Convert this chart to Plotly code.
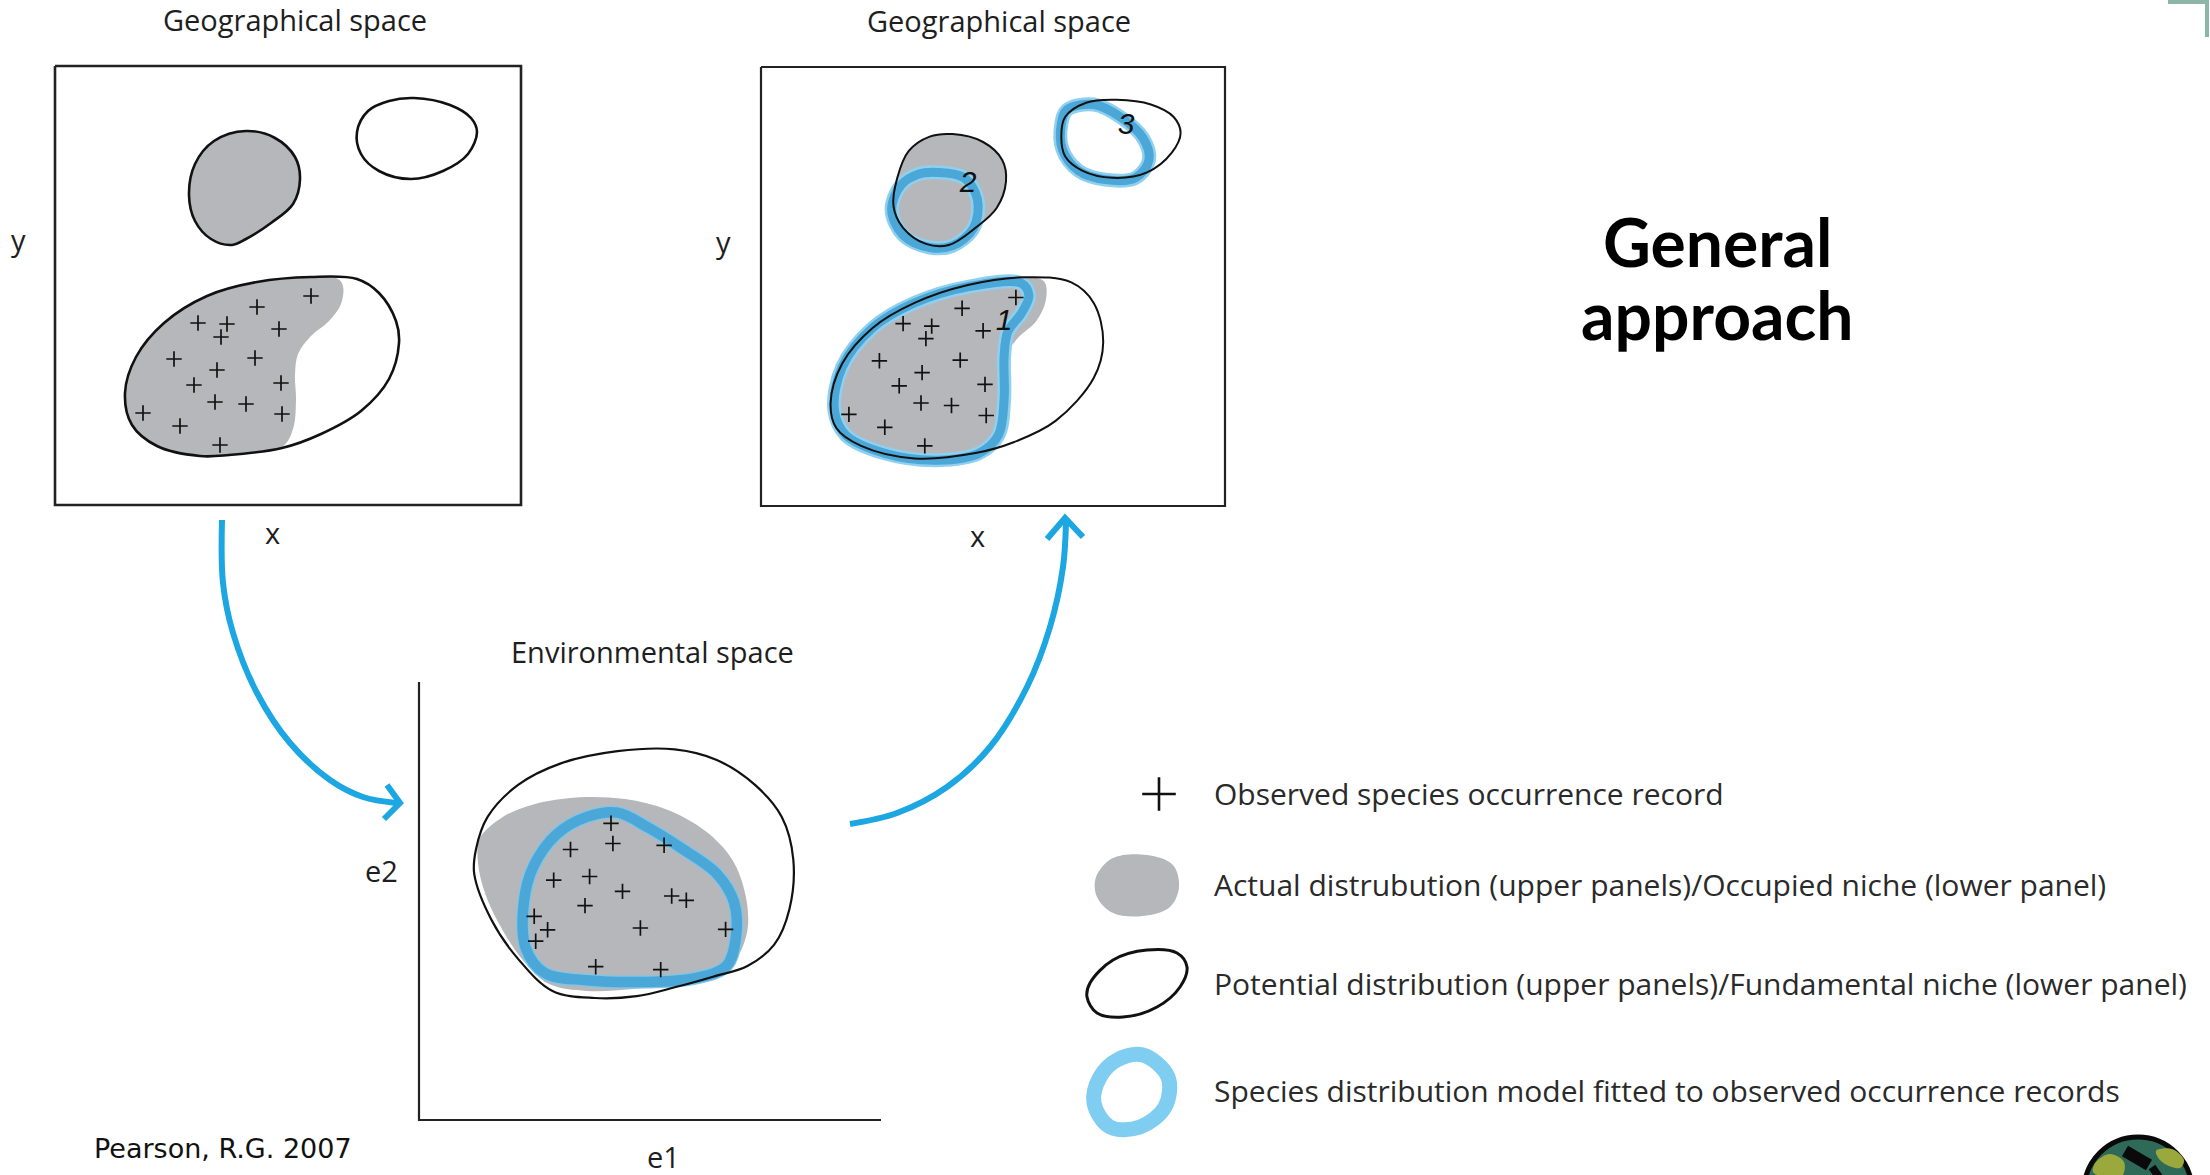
import plotly.graph_objects as go

W, H = 2210, 1175

# ---------------- data (diagram geometry, pixel units of the page) ----------------
# Panel 1 : Geographical space (left)
P1_FRAME = [55, 521, 66, 505]
P1_SMALL_X = [246, 275, 295, 300, 293, 271, 246, 232, 211, 195, 189, 195, 214]
P1_SMALL_Y = [131, 138, 157, 179, 204, 223, 239, 245, 239, 221, 195, 164, 141]
P1_OPEN_X = [414, 450, 471, 477, 468, 443, 411, 379, 361, 357, 368, 389]
P1_OPEN_Y = [98, 105, 118, 132, 154, 171, 179, 171, 154, 132, 111, 101]
P1_BIG_X = [125, 136, 164, 207, 257, 311, 357, 379, 396, 399, 389, 361, 321, 282, 229, 200, 157, 132]
P1_BIG_Y = [393, 357, 323, 296, 282, 277, 279, 293, 321, 343, 379, 411, 434, 448, 455, 456, 446, 425]
P1_ACT_X = [125, 136, 164, 207, 257, 311, 338, 343, 341, 329, 311, 298, 295, 296, 293, 282, 229, 200, 157, 132]
P1_ACT_Y = [393, 357, 323, 296, 282, 277, 279, 286, 304, 321, 336, 354, 375, 400, 429, 447, 455, 456, 446, 425]
P1_OCC_X = [311, 257, 198, 227, 221, 279, 174, 255, 217, 194, 281, 215, 246, 143, 282, 180, 220]
P1_OCC_Y = [296, 307, 323, 324, 337, 329, 359, 358, 370, 385, 383, 402, 404, 413, 414, 426, 445]

# Panel 2 : Geographical space (right, with model predictions)
P2_FRAME = [761, 1225, 67, 506]
P2_SMALL_X = [952.6, 983.1, 1002.2, 1006.0, 996.5, 975.5, 948.8, 925.9, 903.1, 893.5, 897.3, 908.8, 929.7]
P2_SMALL_Y = [134.1, 142.0, 159.9, 181.3, 208.2, 227.8, 245.0, 243.9, 227.8, 206.4, 177.8, 150.9, 136.6]
P2_RING2_X = [937.4, 964.1, 977.4, 973.6, 952.6, 929.7, 903.1, 891.6, 901.2, 918.3]
P2_RING2_Y = [172.4, 177.8, 199.2, 227.8, 245.7, 247.5, 235.0, 209.9, 184.9, 174.2]
P2_OPEN_X = [1065.1, 1086.1, 1116.6, 1150.9, 1173.7, 1180.6, 1171.8, 1147.1, 1112.7, 1082.2, 1065.1, 1061.3]
P2_OPEN_Y = [117.0, 102.7, 99.8, 104.5, 117.0, 133.1, 152.7, 172.4, 177.8, 170.6, 156.3, 136.6]
P2_RING3_X = [1067.0, 1093.7, 1120.4, 1143.2, 1149.0, 1135.6, 1105.1, 1078.4, 1062.4, 1061.3]
P2_RING3_Y = [109.8, 104.5, 117.0, 138.4, 159.9, 177.8, 179.6, 170.6, 149.2, 124.1]
P2_BIG_X = [830.6, 842.1, 872.6, 914.5, 967.9, 1025.1, 1070.8, 1093.7, 1103.2, 1093.7, 1055.6, 1013.6, 975.5, 914.5, 861.1, 836.3]
P2_BIG_Y = [403.0, 363.7, 327.9, 302.9, 285.0, 277.2, 282.2, 302.9, 342.2, 378.0, 420.9, 442.3, 453.1, 458.4, 445.9, 428.0]
P2_ACT_X = [830.6, 842.1, 872.6, 914.5, 967.9, 1025.1, 1044.1, 1046.0, 1036.5, 1017.4, 1006.0, 1004.1, 998.4, 979.3, 914.5, 861.1, 836.3]
P2_ACT_Y = [403.0, 363.7, 327.9, 302.9, 285.0, 277.2, 281.4, 299.3, 320.8, 338.6, 356.5, 392.3, 428.0, 451.3, 458.4, 445.9, 428.0]
P2_RING1_X = [834.4, 842.1, 872.6, 914.5, 967.9, 1021.2, 1028.9, 1021.2, 1007.9, 1004.1, 1004.1, 998.4, 979.3, 937.4, 884.0, 845.9]
P2_RING1_Y = [410.2, 367.3, 327.9, 302.9, 286.8, 283.2, 295.7, 313.6, 331.5, 356.5, 399.4, 435.2, 453.1, 460.2, 453.1, 435.2]
P2_OCC_X = [1015.9, 962.1, 903.1, 931.7, 925.9, 983.1, 879.4, 960.2, 922.1, 899.2, 985.0, 921.0, 951.5, 848.9, 986.2, 884.8, 924.8]
P2_OCC_Y = [297.5, 308.3, 323.6, 326.1, 338.6, 330.8, 360.8, 360.1, 372.6, 385.8, 384.4, 403.0, 405.5, 414.4, 415.5, 427.3, 445.9]
P2_NUM_TEXT = ["1", "2", "3"]
P2_NUM_X = [1004, 968, 1126]
P2_NUM_Y = [322, 184, 126]

# Panel 3 : Environmental space
P3_AXIS_X = [419, 419, 881]
P3_AXIS_Y = [682, 1120, 1120]
P3_FUND_X = [476.1, 487.6, 518.1, 560.2, 617.5, 674.8, 716.8, 755.0, 781.8, 793.3, 789.4, 774.2, 747.4, 713.0, 674.8, 636.6, 594.6, 552.5, 518.1, 491.4, 474.2]
P3_FUND_Y = [848.8, 816.9, 784.9, 763.6, 751.2, 749.4, 760.0, 784.9, 816.9, 859.5, 909.2, 944.7, 966.0, 976.7, 987.3, 996.2, 998.0, 990.9, 958.9, 919.8, 873.7]
P3_OCCN_X = [479.9, 502.8, 533.4, 579.3, 625.1, 667.2, 705.4, 732.1, 745.5, 747.4, 735.9, 716.8, 678.6, 632.8, 586.9, 548.7, 522.0, 502.8, 485.7, 478.0]
P3_OCCN_Y = [838.2, 816.9, 804.4, 797.3, 799.1, 809.8, 831.1, 859.5, 895.0, 930.5, 958.9, 973.1, 983.8, 989.1, 990.9, 983.8, 958.9, 930.5, 895.0, 863.0]
P3_RING_X = [523.9, 533.4, 556.3, 586.9, 617.5, 648.1, 682.4, 716.8, 734.0, 735.9, 726.4, 693.9, 640.4, 586.9, 544.9, 525.8]
P3_RING_Y = [902.1, 866.6, 834.6, 816.9, 812.6, 827.5, 848.8, 873.7, 902.1, 937.6, 966.0, 978.4, 982.0, 980.2, 973.1, 948.2]
P3_OCC_X = [611.0, 612.9, 570.5, 664.1, 553.7, 589.6, 622.5, 671.7, 686.3, 585.0, 534.2, 547.6, 535.7, 640.4, 725.6, 595.7, 660.7]
P3_OCC_Y = [823.3, 843.5, 849.5, 845.3, 880.1, 876.5, 891.4, 896.0, 900.3, 905.6, 916.3, 929.8, 941.2, 928.0, 929.4, 966.7, 969.6]

# Arrows
ARROW_DOWN_X = [222, 223, 233, 257, 290, 330, 363, 396]
ARROW_DOWN_Y = [520, 583, 633, 693, 743, 780, 797, 803]
HEAD_DOWN_X = [387, 400, 384]
HEAD_DOWN_Y = [785, 803, 819]
ARROW_UP_X = [850, 897, 947, 990, 1027, 1050, 1063, 1066]
ARROW_UP_Y = [824, 813, 787, 747, 687, 627, 567, 522]
HEAD_UP_X = [1047, 1065, 1083]
HEAD_UP_Y = [539, 518, 537]

# Legend
LEG_PLUS_X = [1159]
LEG_PLUS_Y = [794]
LEG_GRAY_X = [1113, 1147, 1173, 1179, 1170, 1143, 1113, 1097, 1096]
LEG_GRAY_Y = [858, 855, 865, 887, 907, 916, 913, 897, 877]
LEG_ELL_X = [1090, 1113, 1147, 1177, 1187, 1180, 1157, 1123, 1097, 1087]
LEG_ELL_Y = [983, 960, 950, 953, 967, 987, 1007, 1017, 1013, 997]
LEG_RING_X = [1143, 1168, 1165, 1140, 1110, 1094, 1100, 1117]
LEG_RING_Y = [1055, 1077, 1107, 1127, 1127, 1103, 1077, 1060]
LEG_TEXT = [
    "Observed species occurrence record",
    "Actual distrubution (upper panels)/Occupied niche (lower panel)",
    "Potential distribution (upper panels)/Fundamental niche (lower panel)",
    "Species distribution model fitted to observed occurrence records",
]
LEG_TEXT_X = [1212, 1212, 1212, 1212]
LEG_TEXT_Y = [793, 884, 983, 1090]

# Panel labels
LABEL_TEXT = ["Geographical space", "Geographical space", "Environmental space",
              "y", "x", "y", "x", "e2", "e1"]
LABEL_X = [295, 999, 652, 18, 272, 723, 977, 381, 663]
LABEL_Y = [19, 20, 651, 239, 532, 241, 535, 870, 1156]

HEADING_TEXT = ["General", "approach"]
HEADING_X = [1717, 1717]
HEADING_Y = [241, 314]
CITATION = "Pearson, R.G. 2007"
CITATION_XY = [92, 1148]

# Decorations (corner mark & logo)
CORNER_X = [2168, 2207, 2207]
CORNER_Y = [2, 2, 37]
LOGO_BOX = [2084, 2192, 1137, 1245]
LOGO_PATCH1_X = [2096, 2110, 2124, 2122, 2106, 2093]
LOGO_PATCH1_Y = [1162, 1154, 1162, 1176, 1177, 1172]
LOGO_PATCH2_X = [2156, 2172, 2184, 2180, 2162]
LOGO_PATCH2_Y = [1151, 1149, 1160, 1168, 1162]
LOGO_SAT_X = [2125, 2149]
LOGO_SAT_Y = [1151, 1165]
LOGO_SAT2_X = [2152, 2159]
LOGO_SAT2_Y = [1167, 1177]

# ---------------- styles ----------------
GRAY = "#b6b7bb"
BLUE_CORE = "#4aa7d8"
BLUE_HALO = "#8fd0ef"
LEG_BLUE = "#7fcdf1"
ARROW_BLUE = "#1ca6e2"
INK = "#111111"
TEXT_COL = "#1e1e1e"
FONT = "Open Sans"

fig = go.Figure()


def closed(xs, ys):
    return list(xs) + [xs[0]], list(ys) + [ys[0]]


def fill_shape(xs, ys, color):
    cx, cy = closed(xs, ys)
    fig.add_trace(go.Scatter(x=cx, y=cy, mode="lines", fill="toself", fillcolor=color,
                             line=dict(width=0, color=color, shape="spline", smoothing=1.0),
                             hoverinfo="skip", showlegend=False))


def outline(xs, ys, color, width, close=True, shape="spline"):
    if close:
        xs, ys = closed(xs, ys)
    fig.add_trace(go.Scatter(x=xs, y=ys, mode="lines",
                             line=dict(width=width, color=color, shape=shape, smoothing=1.0),
                             hoverinfo="skip", showlegend=False))


def pluses(xs, ys, size=11, width=1.7):
    fig.add_trace(go.Scatter(x=xs, y=ys, mode="markers",
                             marker=dict(symbol="cross-thin", size=size, color=INK,
                                         line=dict(width=width, color=INK)),
                             hoverinfo="skip", showlegend=False))


def frame(box, width):
    x0, x1, y0, y1 = box
    outline([x0, x1, x1, x0], [y0, y0, y1, y1], "#222222", width, close=True, shape="linear")


# ---- Panel 1 ----
frame(P1_FRAME, 2.6)
fill_shape(P1_SMALL_X, P1_SMALL_Y, GRAY)
fill_shape(P1_ACT_X, P1_ACT_Y, GRAY)
outline(P1_SMALL_X, P1_SMALL_Y, INK, 2.6)
outline(P1_OPEN_X, P1_OPEN_Y, INK, 2.6)
outline(P1_BIG_X, P1_BIG_Y, INK, 2.6)
pluses(P1_OCC_X, P1_OCC_Y)

# ---- Panel 2 ----
frame(P2_FRAME, 2.2)
fill_shape(P2_SMALL_X, P2_SMALL_Y, GRAY)
fill_shape(P2_ACT_X, P2_ACT_Y, GRAY)
rings2 = [(P2_RING2_X, P2_RING2_Y), (P2_RING3_X, P2_RING3_Y), (P2_RING1_X, P2_RING1_Y)]
for rx, ry in rings2:
    outline(rx, ry, BLUE_HALO, 14)
for rx, ry in rings2:
    outline(rx, ry, BLUE_CORE, 9)
outline(P2_SMALL_X, P2_SMALL_Y, INK, 2)
outline(P2_OPEN_X, P2_OPEN_Y, INK, 2)
outline(P2_BIG_X, P2_BIG_Y, INK, 2)
pluses(P2_OCC_X, P2_OCC_Y)
fig.add_trace(go.Scatter(x=P2_NUM_X, y=P2_NUM_Y, mode="text", text=P2_NUM_TEXT,
                         textfont=dict(family="Liberation Sans", size=30, color="#111111", style="italic"),
                         hoverinfo="skip", showlegend=False))

# ---- Panel 3 ----
outline(P3_AXIS_X, P3_AXIS_Y, "#222222", 2.2, close=False, shape="linear")
fill_shape(P3_OCCN_X, P3_OCCN_Y, GRAY)
outline(P3_RING_X, P3_RING_Y, "#7cc6ea", 13)
outline(P3_RING_X, P3_RING_Y, BLUE_CORE, 10.5)
outline(P3_FUND_X, P3_FUND_Y, INK, 2.2)
pluses(P3_OCC_X, P3_OCC_Y)

# ---- Arrows ----
outline(ARROW_DOWN_X, ARROW_DOWN_Y, ARROW_BLUE, 6, close=False)
outline(HEAD_DOWN_X, HEAD_DOWN_Y, ARROW_BLUE, 6, close=False, shape="linear")
outline(ARROW_UP_X, ARROW_UP_Y, ARROW_BLUE, 6, close=False)
outline(HEAD_UP_X, HEAD_UP_Y, ARROW_BLUE, 6, close=False, shape="linear")

# ---- Legend symbols ----
pluses(LEG_PLUS_X, LEG_PLUS_Y, size=24, width=2.6)
fill_shape(LEG_GRAY_X, LEG_GRAY_Y, GRAY)
outline(LEG_ELL_X, LEG_ELL_Y, INK, 3)
outline(LEG_RING_X, LEG_RING_Y, LEG_BLUE, 15)

# ---- Decorations ----
outline(CORNER_X, CORNER_Y, "#8db6a8", 4, close=False, shape="linear")
lx0, lx1, ly0, ly1 = LOGO_BOX
fig.add_shape(type="circle", xref="x", yref="y", x0=lx0, x1=lx1, y0=ly0, y1=ly1, layer="below",
              fillcolor="#2f6a58", line=dict(color="#0a0a0a", width=5))
fill_shape(LOGO_PATCH1_X, LOGO_PATCH1_Y, "#9aa83c")
fill_shape(LOGO_PATCH2_X, LOGO_PATCH2_Y, "#9aa83c")
outline(LOGO_SAT_X, LOGO_SAT_Y, "#0a0a0a", 12, close=False, shape="linear")
outline(LOGO_SAT2_X, LOGO_SAT2_Y, "#0a0a0a", 8, close=False, shape="linear")

# ---- Text ----
annotations = []
for t, x, y in zip(LABEL_TEXT, LABEL_X, LABEL_Y):
    annotations.append(dict(text=t, x=x, y=y, xref="x", yref="y", showarrow=False,
                            xanchor="center", yanchor="middle",
                            font=dict(family=FONT, size=29, color=TEXT_COL)))
for t, x, y in zip(LEG_TEXT, LEG_TEXT_X, LEG_TEXT_Y):
    annotations.append(dict(text=t, x=x, y=y, xref="x", yref="y", showarrow=False,
                            xanchor="left", yanchor="middle",
                            font=dict(family=FONT, size=30, color="#2a2a2a")))
for t, x, y in zip(HEADING_TEXT, HEADING_X, HEADING_Y):
    annotations.append(dict(text="<b>" + t + "</b>", x=x, y=y, xref="x", yref="y", showarrow=False,
                            xanchor="center", yanchor="middle",
                            font=dict(family="Lato", size=66, color="#000000")))
annotations.append(dict(text=CITATION, x=CITATION_XY[0], y=CITATION_XY[1], xref="x", yref="y",
                        showarrow=False, xanchor="left", yanchor="middle",
                        font=dict(family="DejaVu Sans", size=27, color="#111111")))

fig.update_layout(
    width=W, height=H, margin=dict(l=0, r=0, t=0, b=0, pad=0),
    paper_bgcolor="white", plot_bgcolor="white",
    xaxis=dict(range=[0, W], visible=False, fixedrange=True),
    yaxis=dict(range=[H, 0], visible=False, fixedrange=True),
    annotations=annotations, showlegend=False,
)

fig.write_html("out.html", config={"displayModeBar": False},
               post_script="document.body.style.margin='0';document.body.style.overflow='hidden';")
